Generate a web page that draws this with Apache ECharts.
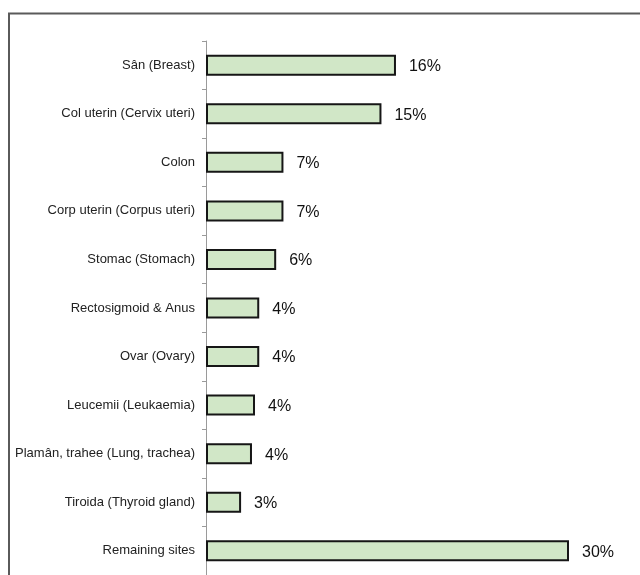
<!DOCTYPE html>
<html>
<head>
<meta charset="utf-8">
<script src="https://cdn.jsdelivr.net/npm/echarts@6/dist/echarts.min.js"></script>
<style>
html,body{margin:0;padding:0;background:#fff;}
#chart{width:640px;height:575px;}
</style>
</head>
<body>
<div id="chart"></div>
<script>
var categories = [
  "Sân (Breast)",
  "Col uterin (Cervix uteri)",
  "Colon",
  "Corp uterin (Corpus uteri)",
  "Stomac (Stomach)",
  "Rectosigmoid & Anus",
  "Ovar (Ovary)",
  "Leucemii (Leukaemia)",
  "Plamân, trahee (Lung, trachea)",
  "Tiroida (Thyroid gland)",
  "Remaining sites"
];
var values = [15.7, 14.5, 6.4, 6.4, 5.8, 4.4, 4.4, 4.05, 3.8, 2.9, 30];
var valueLabels = ["16%", "15%", "7%", "7%", "6%", "4%", "4%", "4%", "4%", "3%", "30%"];

var chart = echarts.init(document.getElementById('chart'), null, {renderer: 'canvas'});
chart.setOption({
  animation: false,
  backgroundColor: '#ffffff',
  graphic: [{
    type: 'rect',
    shape: {x: 9, y: 13.5, width: 700, height: 700},
    style: {fill: 'none', stroke: '#5a5a5a', lineWidth: 2},
    silent: true
  }],
  grid: {left: 206, top: 41, height: 540, width: 423.5, containLabel: false},
  xAxis: {
    type: 'value', min: 0, max: 35, show: false
  },
  yAxis: {
    type: 'category',
    inverse: true,
    data: categories,
    axisLine: {show: true, lineStyle: {color: '#9a9a9a', width: 1}},
    axisTick: {show: true, length: 4, lineStyle: {color: '#9a9a9a'}},
    axisLabel: {
      margin: 11,
      fontFamily: 'Liberation Sans, Arial, sans-serif',
      fontSize: 13,
      color: '#222222'
    },
    splitLine: {show: false}
  },
  series: [{
    type: 'bar',
    data: values,
    barWidth: 21,
    itemStyle: {color: '#d1e7c7', borderColor: '#161616', borderWidth: 2},
    label: {
      show: true,
      position: 'right',
      distance: 13,
      offset: [0, 1.5],
      fontFamily: 'Liberation Sans, Arial, sans-serif',
      fontSize: 16,
      color: '#111111',
      formatter: function (p) { return valueLabels[p.dataIndex]; }
    }
  }]
});
</script>
</body>
</html>
